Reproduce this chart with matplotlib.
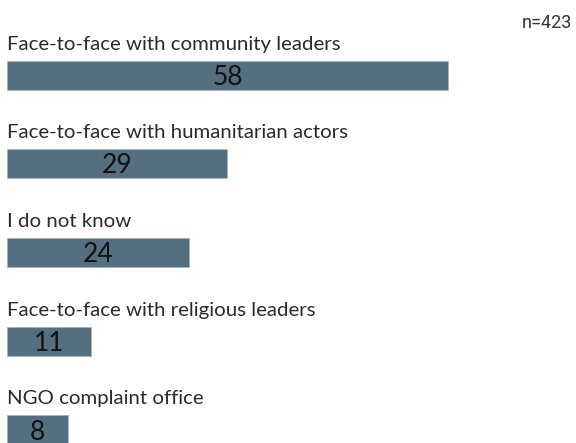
import matplotlib
matplotlib.use("Agg")
import matplotlib.pyplot as plt

categories = [
    "Face-to-face with community leaders",
    "Face-to-face with humanitarian actors",
    "I do not know",
    "Face-to-face with religious leaders",
    "NGO complaint office",
]
values = [58, 29, 24, 11, 8]
sample_note = "n=423"

BAR_COLOR = "#546f7f"
BAR_H = 0.327

fig = plt.figure(figsize=(5.76, 4.43), dpi=100)
ax = fig.add_axes([0, 0, 1, 1])

pos = list(range(len(values)))
ax.barh(pos, values, height=BAR_H, color=BAR_COLOR, edgecolor="#9fb0ba", linewidth=0.4)

for i, (cat, v) in enumerate(zip(categories, values)):
    ax.text(0, i - BAR_H / 2 - 0.124, cat, ha="left", va="baseline",
            fontsize=14.7, family=["Lato", "DejaVu Sans"], color="#2a2a2a")
    ax.text(v / 2, i + 0.11, str(v), ha="center", va="baseline",
            fontsize=19, family=["Lato", "DejaVu Sans"], color="#111111")

# sample size, top right corner
ax.text(0.993, 0.937, sample_note, transform=fig.transFigure, ha="right", va="baseline",
        fontsize=13, family=["Roboto", "DejaVu Sans"], color="#333333")

ax.set_xlim(-0.92, 74.84)
ax.set_ylim(4.149, -0.846)
ax.axis("off")

fig.savefig("out.png", dpi=100)
